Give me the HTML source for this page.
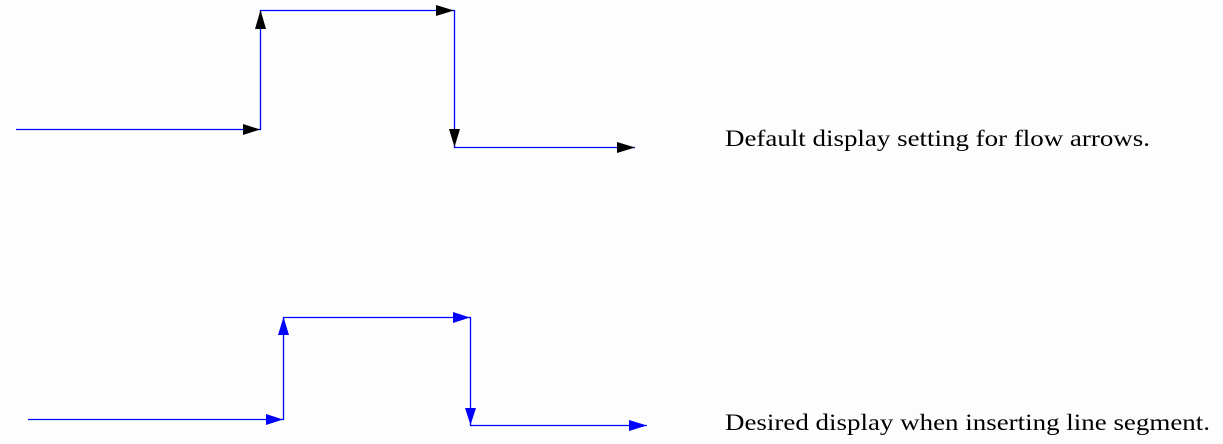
<!DOCTYPE html>
<html><head><style>
html,body{margin:0;padding:0;background:#fdfdfd;}
svg{display:block}
text{font-family:"Liberation Serif",serif;font-size:23px;fill:#000}
</style></head><body>
<svg width="1223" height="444" viewBox="0 0 1223 444">
<g stroke="#0000ff" stroke-width="1.3" fill="none">
<polyline points="16,129.5 260.5,129.5 260.5,10.5 454.5,10.5 454.5,147.5 635,147.5"/>
<polyline points="28,419.5 283.5,419.5 283.5,317.5 470.5,317.5 470.5,425.5 647,425.5"/>
</g>
<g fill="#000">
<polygon points="260,129.5 243,124 243,135"/>
<polygon points="260.5,10 255,29 266,29"/>
<polygon points="454,10.5 436,5 436,16"/>
<polygon points="454.5,147 449,129 460,129"/>
<polygon points="635,147.5 617,142 617,153"/>
</g>
<g fill="#0000ff">
<polygon points="283,419.5 266,414 266,425"/>
<polygon points="283.5,317 278,335 289,335"/>
<polygon points="470,317.5 453,312 453,323"/>
<polygon points="470.5,425 465,408 476,408"/>
<polygon points="647,425.5 629,420 629,431"/>
</g>
<text x="725" y="146" textLength="425" lengthAdjust="spacingAndGlyphs">Default display setting for flow arrows.</text>
<text x="725" y="430" textLength="485" lengthAdjust="spacingAndGlyphs">Desired display when inserting line segment.</text>
</svg>
</body></html>
